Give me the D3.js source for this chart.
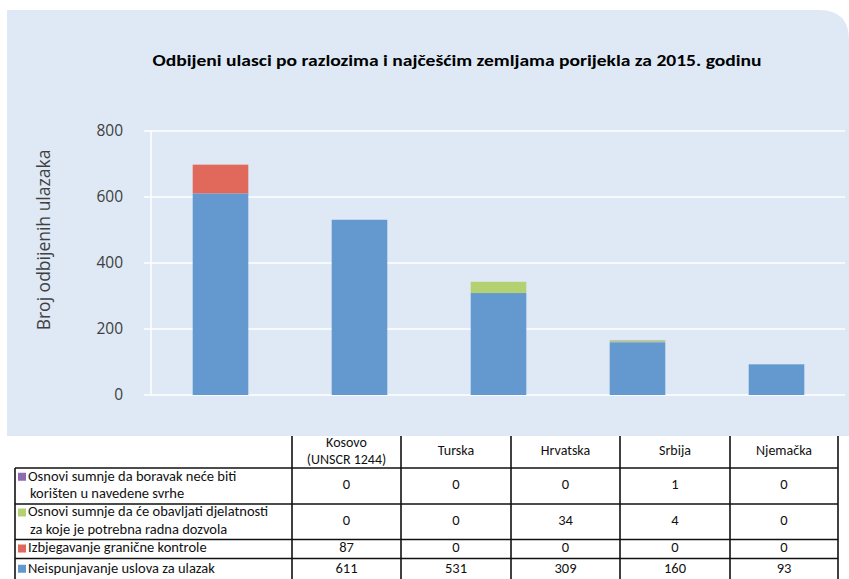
<!DOCTYPE html>
<html><head>
<meta charset="utf-8">
<script src="https://d3js.org/d3.v7.min.js"></script>
<style>
  body { margin:0; background:#fff; }
</style>
</head>
<body>
<svg id="chart" width="849" height="579"></svg>
<script>
  const categories = ["Kosovo (UNSCR 1244)", "Turska", "Hrvatska", "Srbija", "Njemačka"];
  const headerLines = [["Kosovo", "(UNSCR 1244)"], ["Turska"], ["Hrvatska"], ["Srbija"], ["Njemačka"]];

  // stack order bottom -> top
  const seriesNames = ["Neispunjavanje uslova za ulazak",
                       "Izbjegavanje granične kontrole",
                       "Osnovi sumnje da će obavljati djelatnosti za koje je potrebna radna dozvola",
                       "Osnovi sumnje da boravak neće biti korišten u navedene svrhe"];
  const neispunjavanje = [611, 531, 309, 160, 93];
  const izbjegavanje   = [87, 0, 0, 0, 0];
  const radnaDozvola   = [0, 0, 34, 4, 0];
  const boravak        = [0, 0, 0, 1, 0];
  const seriesColors = ["#6499cf", "#e0695b", "#b3d170", "#8e6bb0"];
  const yTicks = [0, 200, 400, 600, 800];

  // table rows, top -> bottom
  const tableRows = [
    {lines:["Osnovi sumnje da boravak neće biti", "korišten u navedene svrhe"], values: boravak, color:"#8e6bb0"},
    {lines:["Osnovi sumnje da će obavljati djelatnosti", "za koje je potrebna radna dozvola"], values: radnaDozvola, color:"#b3d170"},
    {lines:["Izbjegavanje granične  kontrole"], values: izbjegavanje, color:"#e0695b"},
    {lines:["Neispunjavanje uslova za ulazak"], values: neispunjavanje, color:"#6499cf"}
  ];

  const svg = d3.select("svg#chart");
  const tableFont = "Carlito, Calibri, 'Liberation Sans Narrow', 'Open Sans', sans-serif";

  // background panel with rounded top-right corner
  const px0 = 7, py0 = 10, px1 = 849, py1 = 436, r = 30;
  svg.append("path")
     .attr("d", `M${px0},${py0} H${px1 - r} Q${px1},${py0} ${px1},${py0 + r} V${py1} H${px0} Z`)
     .attr("fill", "#dee9f5");

  svg.append("text")
     .text("Odbijeni ulasci po razlozima i najčešćim zemljama porijekla za 2015. godinu")
     .attr("x", 457).attr("y", 66)
     .attr("text-anchor", "middle")
     .attr("textLength", 609).attr("lengthAdjust", "spacingAndGlyphs")
     .style("font-family", "Carlito, Calibri, 'Open Sans', sans-serif")
     .style("font-weight", "bold").style("font-size", "16px")
     .style("fill", "#000");

  const x = d3.scaleBand().domain(categories).range([151, 846])
              .paddingInner(0.6).paddingOuter(0.3);
  const y = d3.scaleLinear().domain([0, 800]).range([395, 131]);

  // gridlines
  svg.append("g").selectAll("line").data(yTicks).join("line")
     .attr("x1", 144).attr("x2", 845)
     .attr("y1", d => y(d)).attr("y2", d => y(d))
     .style("stroke", "#fff").style("stroke-width", 1.5);

  svg.append("line")
     .attr("x1", 151).attr("x2", 151).attr("y1", y(800)).attr("y2", y(0))
     .style("stroke", "#fff").style("stroke-width", 1.5);

  svg.append("g").selectAll("text").data(yTicks).join("text")
     .text(d => d)
     .attr("x", 123).attr("y", d => y(d) + 1)
     .attr("text-anchor", "end").attr("dominant-baseline", "middle")
     .style("font-family", "'Open Sans', sans-serif").style("font-size", "15.5px")
     .style("fill", "#404040");

  svg.append("text")
     .text("Broj  odbijenih ulazaka")
     .attr("transform", "translate(50,240) rotate(-90)")
     .attr("text-anchor", "middle")
     .style("font-family", "'Open Sans', sans-serif").style("font-size", "17.5px")
     .style("fill", "#404040");

  // stacked bars
  const table = categories.map((c, i) => ({cat:c, s0:neispunjavanje[i], s1:izbjegavanje[i], s2:radnaDozvola[i], s3:boravak[i]}));
  const stack = d3.stack().keys(["s0", "s1", "s2", "s3"])(table);
  stack.forEach((layer, k) => {
    svg.append("g").selectAll("rect").data(layer.filter(d => d[1] > d[0])).join("rect")
       .attr("x", d => x(d.data.cat))
       .attr("width", x.bandwidth())
       .attr("y", d => y(d[1]))
       .attr("height", d => y(d[0]) - y(d[1]))
       .style("fill", seriesColors[k]);
  });

  // data table
  const colEdges = [292, 401, 511, 620, 730, 838];
  const leftEdge = 15;
  const rowEdges = [468, 504, 539.5, 558.5, 580];
  const headerTop = 436;
  const g = svg.append("g");

  // vertical lines
  colEdges.forEach((cx, i) => {
    g.append("line").attr("x1", cx).attr("x2", cx)
     .attr("y1", headerTop).attr("y2", rowEdges[rowEdges.length - 1])
     .style("stroke", "#111").style("stroke-width", 1.6);
  });
  g.append("line").attr("x1", leftEdge).attr("x2", leftEdge)
   .attr("y1", rowEdges[0]).attr("y2", rowEdges[rowEdges.length - 1])
   .style("stroke", "#111").style("stroke-width", 1.6);
  rowEdges.forEach(ry => {
    g.append("line").attr("x1", leftEdge).attr("x2", colEdges[colEdges.length - 1])
     .attr("y1", ry).attr("y2", ry)
     .style("stroke", "#111").style("stroke-width", 1.6);
  });

  // header
  headerLines.forEach((lines, i) => {
    const cx = (colEdges[i] + colEdges[i + 1]) / 2;
    const cy = (headerTop + rowEdges[0]) / 2;
    lines.forEach((t, j) => {
      g.append("text").text(t)
       .attr("x", cx).attr("y", cy + (j - (lines.length - 1) / 2) * 17)
       .attr("text-anchor", "middle").attr("dominant-baseline", "middle")
       .style("font-family", tableFont).style("font-size", "14px").style("fill", "#111");
    });
  });

  // rows
  tableRows.forEach((row, ri) => {
    const top = rowEdges[ri], bot = rowEdges[ri + 1];
    const cy = (top + bot) / 2;
    const n = row.lines.length;
    row.lines.forEach((t, j) => {
      const ty = cy + (j - (n - 1) / 2) * 17.5;
      if (j === 0) {
        g.append("rect").attr("x", 18).attr("y", ty - 4.5).attr("width", 8).attr("height", 8)
         .style("fill", row.color);
      }
      g.append("text").text(t)
       .attr("x", j === 0 ? 28 : 30).attr("y", ty)
       .attr("dominant-baseline", "middle")
       .style("font-family", tableFont).style("font-size", "14.5px").style("fill", "#111");
    });
    row.values.forEach((v, ci) => {
      g.append("text").text(v)
       .attr("x", (colEdges[ci] + colEdges[ci + 1]) / 2).attr("y", cy)
       .attr("text-anchor", "middle").attr("dominant-baseline", "middle")
       .style("font-family", tableFont).style("font-size", "14.5px").style("fill", "#111");
    });
  });
</script>
</body>
</html>
